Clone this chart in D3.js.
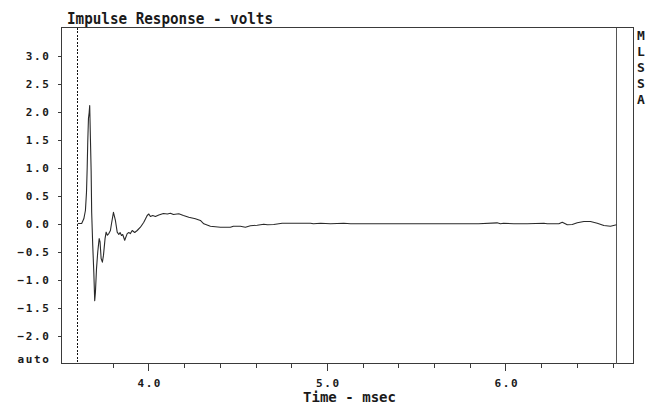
<!DOCTYPE html>
<html>
<head>
<meta charset="utf-8">
<script src="https://cdnjs.cloudflare.com/ajax/libs/d3/7.8.5/d3.min.js"></script>
<style>
  body { margin: 0; background: #fff; }
  text { font-family: "DejaVu Sans Mono", monospace; font-weight: bold; fill: #1a1a1a; }
</style>
</head>
<body>
<div id="chart"></div>
<script>
// impulse response trace (time in msec, amplitude in volts)
const timeMs = [
  3.604, 3.626, 3.638, 3.647, 3.653, 3.657, 3.660, 3.664, 3.668, 3.671,
  3.675, 3.679, 3.682, 3.688, 3.694, 3.699, 3.703, 3.709, 3.716, 3.724,
  3.729, 3.735, 3.742, 3.748, 3.757, 3.763, 3.770, 3.778, 3.787, 3.793,
  3.804, 3.815, 3.825, 3.834, 3.841, 3.849, 3.856, 3.867, 3.881, 3.890,
  3.899, 3.909, 3.923, 3.937, 3.955, 3.974, 3.993, 4.002, 4.011, 4.024,
  4.039, 4.058, 4.084, 4.106, 4.123, 4.140, 4.170, 4.196, 4.226, 4.263,
  4.291, 4.310, 4.347, 4.403, 4.459, 4.476, 4.515, 4.543, 4.571, 4.609,
  4.646, 4.667, 4.702, 4.749, 4.908, 4.924, 4.964, 5.020, 5.094, 5.132,
  5.300, 5.849, 5.953, 5.972, 5.989, 6.047, 6.122, 6.215, 6.234, 6.299,
  6.318, 6.346, 6.374, 6.402, 6.439, 6.476, 6.514, 6.551, 6.588, 6.622
];
const volts = [
  0.000, 0.000, 0.084, 0.232, 0.559, 1.005, 1.452, 1.875, 1.980, 2.107,
  1.518, 0.946, 0.200, -0.393, -0.870, -1.380, -1.230, -0.810, -0.510, -0.270,
  -0.330, -0.625, -0.690, -0.570, -0.270, -0.155, -0.210, -0.180, -0.125, -0.005,
  0.200, 0.054, -0.155, -0.196, -0.160, -0.214, -0.196, -0.300, -0.180, -0.160,
  -0.180, -0.125, -0.160, -0.125, -0.066, 0.023, 0.143, 0.170, 0.125, 0.143,
  0.125, 0.152, 0.179, 0.170, 0.184, 0.160, 0.173, 0.143, 0.113, 0.084,
  0.054, -0.005, -0.048, -0.066, -0.066, -0.048, -0.048, -0.066, -0.041, -0.030,
  -0.012, -0.023, -0.018, 0.005, 0.005, -0.005, 0.005, -0.005, 0.005, -0.005,
  -0.005, -0.005, 0.012, -0.005, 0.005, -0.005, -0.005, 0.005, -0.005, -0.005,
  0.023, -0.023, -0.018, 0.012, 0.036, 0.036, 0.005, -0.036, -0.048, -0.023
];

const yTicks = [3.0, 2.5, 2.0, 1.5, 1.0, 0.5, 0.0, -0.5, -1.0, -1.5, -2.0];
const xMajorTicks = [4.0, 5.0, 6.0];
const xMinorTicks = [3.8, 4.2, 4.4, 4.6, 4.8, 5.2, 5.4, 5.6, 5.8, 6.2, 6.4, 6.6];
const xDomain = [3.513, 6.717];
const yDomain = [-2.5, 3.5];
const markerStart = 3.602; // dashed cursor
const markerEnd = 6.622;   // end of window

const title = 'Impulse Response - volts';
const xTitle = 'Time - msec';
const sideLabel = ['M', 'L', 'S', 'S', 'A'];

const width = 653;
const height = 416;
const margin = { top: 27, right: 20, bottom: 53, left: 61 };

const svg = d3
  .select('#chart')
  .append('svg')
  .attr('width', width)
  .attr('height', height);

const x = d3.scaleLinear().domain(xDomain).range([margin.left, width - margin.right]);
const y = d3.scaleLinear().domain(yDomain).range([height - margin.bottom, margin.top]);

const g = svg.append('g').attr('transform', 'translate(0.5,0.5)');

// frame
g.append('rect')
  .attr('x', x(xDomain[0]))
  .attr('y', y(yDomain[1]))
  .attr('width', x(xDomain[1]) - x(xDomain[0]))
  .attr('height', y(yDomain[0]) - y(yDomain[1]))
  .attr('fill', 'none')
  .attr('stroke', '#3a3a3a')
  .attr('shape-rendering', 'crispEdges');

// y axis
const yAxis = g
  .append('g')
  .attr('transform', `translate(${margin.left},0)`)
  .call(d3.axisLeft(y).tickValues(yTicks).tickSize(4).tickPadding(7).tickFormat(d3.format('.1f')));
yAxis.select('.domain').remove();
yAxis.selectAll('line').attr('stroke', '#3a3a3a').attr('shape-rendering', 'crispEdges');
yAxis
  .selectAll('text')
  .attr('font-family', null)
  .attr('font-size', null)
  .style('font-size', '11px')
  .style('letter-spacing', '1.6px')
  .text(d => d3.format('.1f')(d).replace('-', '\u2212'));

g.append('text')
  .attr('x', margin.left - 11)
  .attr('y', y(yDomain[0]) - 4)
  .attr('dy', '0.32em')
  .attr('text-anchor', 'end')
  .style('font-size', '11px')
  .style('letter-spacing', '1.6px')
  .text('auto');

// x axis: minor then major ticks
const xBase = height - margin.bottom;
const xMinor = g
  .append('g')
  .attr('transform', `translate(0,${xBase})`)
  .call(d3.axisBottom(x).tickValues(xMinorTicks).tickSize(4).tickFormat(''));
xMinor.select('.domain').remove();
xMinor.selectAll('line').attr('stroke', '#3a3a3a').attr('shape-rendering', 'crispEdges');

const xMajor = g
  .append('g')
  .attr('transform', `translate(0,${xBase})`)
  .call(d3.axisBottom(x).tickValues(xMajorTicks).tickSize(7).tickPadding(9).tickFormat(d3.format('.1f')));
xMajor.select('.domain').remove();
xMajor.selectAll('line').attr('stroke', '#3a3a3a').attr('shape-rendering', 'crispEdges');
xMajor
  .selectAll('text')
  .attr('font-family', null)
  .attr('font-size', null)
  .attr('dx', '0.8px')
  .style('font-size', '11px')
  .style('letter-spacing', '1.6px');

// cursor lines
g.append('line')
  .attr('x1', Math.round(x(markerStart)))
  .attr('x2', Math.round(x(markerStart)))
  .attr('y1', y(yDomain[1]))
  .attr('y2', y(yDomain[0]))
  .attr('stroke', '#111')
  .attr('stroke-dasharray', '2,1.5')
  .attr('shape-rendering', 'crispEdges');

g.append('line')
  .attr('x1', Math.round(x(markerEnd)))
  .attr('x2', Math.round(x(markerEnd)))
  .attr('y1', y(yDomain[1]))
  .attr('y2', y(yDomain[0]))
  .attr('stroke', '#555')
  .attr('shape-rendering', 'crispEdges');

// trace
const points = timeMs.map((t, i) => [t, volts[i]]);
const line = d3
  .line()
  .x(d => x(d[0]))
  .y(d => y(d[1]));

g.append('path')
  .datum(points)
  .attr('fill', 'none')
  .attr('stroke', '#2a2a2a')
  .attr('stroke-width', 1.1)
  .attr('stroke-linejoin', 'round')
  .attr('d', line);

// titles
svg.append('text')
  .attr('x', 67)
  .attr('y', 24)
  .attr('textLength', 206)
  .attr('lengthAdjust', 'spacingAndGlyphs')
  .style('font-size', '16.5px')
  .style('font-weight', '600')
  .text(title);

svg.append('text')
  .attr('x', 303)
  .attr('y', 402)
  .attr('textLength', 93)
  .attr('lengthAdjust', 'spacingAndGlyphs')
  .style('font-size', '14px')
  .style('font-weight', '600')
  .text(xTitle);

svg.append('g')
  .selectAll('text')
  .data(sideLabel)
  .join('text')
  .attr('x', 641)
  .attr('y', (d, i) => 40 + i * 15.9)
  .attr('text-anchor', 'middle')
  .style('font-size', '13px')
  .text(d => d);
</script>
</body>
</html>
